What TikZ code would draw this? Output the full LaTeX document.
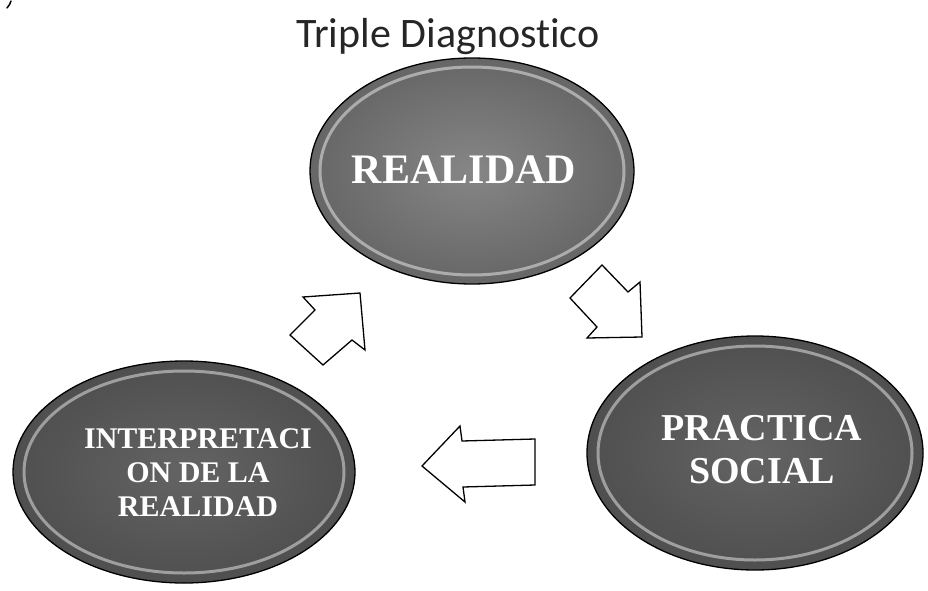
\documentclass[tikz,border=0pt]{standalone}
\usepackage{fontspec}
\setmainfont{Liberation Serif}
\newfontfamily\titlefont[Ligatures=NoCommon]{Carlito}
\usetikzlibrary{shapes.geometric}
\tikzset{
  ball/.style={ellipse, draw=black, line width=1.3pt, text=white, align=center, inner sep=0pt},
  topball/.style={ball, inner color=gray!95, outer color=gray!80!black},
  lowball/.style={ball, inner color=gray!78!black, outer color=gray!62!black},
  rim/.style={draw=white, opacity=0.45, line width=3pt},
  blockarrow/.style={draw=black, line width=1.3pt, fill=white, line join=miter},
  balltext/.style={text=white, font=\bfseries, align=center, inner sep=0pt},
}
\begin{document}
\begin{tikzpicture}[x=1pt,y=-1pt]
\useasboundingbox (0,0) rectangle (928,591);
% scan mark top-left
\draw[line width=1.5pt, line cap=round] (11,1) .. controls (10,4) .. (7,8);
% title
\node[anchor=base, text=black!85, font=\titlefont\fontsize{42}{46}\selectfont, inner sep=0pt] (title) at (448,48) {Triple Diagnostico};
% ellipses
\node[topball, minimum width=324pt, minimum height=226pt] (real) at (472,171) {};
\draw[rim] (real.center) ellipse (152pt and 104pt);
\node[balltext, font=\bfseries\fontsize{42}{46}\selectfont] (realt) at (464,170) {REALIDAD};

\node[lowball, minimum width=342pt, minimum height=222pt] (interp) at (184,472) {};
\draw[rim] (interp.center) ellipse (160pt and 101pt);
\node[balltext, font=\bfseries\fontsize{30}{34}\selectfont] (interpt) at (198,473) {INTERPRETACI\\ON DE LA\\REALIDAD};

\node[lowball, minimum width=336pt, minimum height=234pt] (prac) at (755,453) {};
\draw[rim] (prac.center) ellipse (157pt and 107pt);
\node[balltext, font=\bfseries\fontsize{38}{43}\selectfont] (pract) at (762,450) {PRACTICA\\SOCIAL};

% block arrows
\draw[blockarrow] (360,293) -- (365,350) -- (352,340) -- (323,365) -- (290,335) -- (315,310) -- (303,297) -- cycle;
\draw[blockarrow] (642,337) -- (640,282) -- (628,292) -- (602,265) -- (570,298) -- (597,327) -- (587,338) -- cycle;
\draw[blockarrow] (422,466) -- (460,426) -- (462,441) -- (535,439) -- (535,485) -- (463,487) -- (465,502) -- cycle;
\end{tikzpicture}
\end{document}
